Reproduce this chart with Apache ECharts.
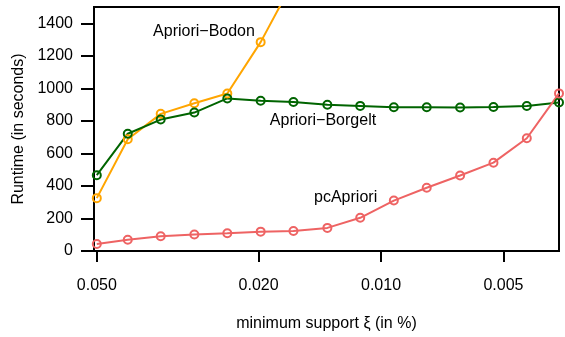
<!DOCTYPE html>
<html>
<head>
<meta charset="utf-8">
<script src="https://cdn.jsdelivr.net/npm/echarts@6/dist/echarts.min.js"></script>
<style>
html,body{margin:0;padding:0;background:#fff;}
#c{width:565px;height:337px;}
</style>
</head>
<body>
<div id="c"></div>
<script>
// minimum support (in %)
const support = [0.05, 0.04196, 0.03482, 0.02878, 0.02388, 0.01977, 0.01642, 0.01355, 0.01125, 0.00930, 0.00772, 0.00639, 0.00529, 0.00438, 0.00365];
// runtimes (seconds)
const bodon = [325, 687, 843, 908, 968, 1284, 1660];
const borgelt = [466, 721, 808, 851, 938, 924, 916, 899, 892, 884, 884, 882, 885, 891, 913];
const pcApriori = [43, 69, 91, 101, 109, 119, 123, 142, 204, 310, 389, 464, 543, 693, 969];
// tick labels
const xTicks = [0.05, 0.02, 0.01, 0.005];
const yTicks = [0, 200, 400, 600, 800, 1000, 1200, 1400];
// series names and annotation anchors (data coordinates)
const names = ['Apriori\u2212Bodon', 'Apriori\u2212Borgelt', 'pcApriori'];
const labelAnchors = [[0.02725, 1351], [0.01389, 804], [0.01222, 330]];

const colors = ['#FFA500', '#006400', '#EE6363'];
const FONT = "'Liberation Sans', Arial, Helvetica, sans-serif";

function pairs(ys) { return ys.map((y, i) => [support[i], y]); }

const chart = echarts.init(document.getElementById('c'), null, {renderer: 'canvas'});
const seriesData = [bodon, borgelt, pcApriori];

chart.setOption({
  animation: false,
  backgroundColor: '#fff',
  textStyle: {fontFamily: FONT},
  grid: {left: 94, top: 7, width: 465, height: 247, show: true, borderColor: '#000', borderWidth: 2, backgroundColor: 'transparent'},
  xAxis: {
    type: 'log', inverse: true, min: 0.00365, max: 0.0508,
    name: 'minimum support \u03BE (in %)', nameLocation: 'middle', nameGap: 65,
    nameTextStyle: {fontSize: 16, color: '#000', fontFamily: FONT},
    axisLine: {show: false},
    splitLine: {show: false}, minorTick: {show: false}, minorSplitLine: {show: false},
    axisTick: {show: true, customValues: xTicks, length: 11, lineStyle: {color: '#000', width: 2}},
    axisLabel: {customValues: xTicks, formatter: v => Number(v).toFixed(3), margin: 27, fontSize: 16, color: '#000', fontFamily: FONT}
  },
  yAxis: {
    type: 'value', min: 0, max: 1500,
    name: 'Runtime (in seconds)', nameLocation: 'middle', nameGap: 57,
    nameTextStyle: {fontSize: 16, color: '#000', fontFamily: FONT},
    axisLine: {show: true, lineStyle: {color: '#000', width: 2}},
    splitLine: {show: false},
    axisTick: {show: true, customValues: yTicks, length: 13, lineStyle: {color: '#000', width: 2}},
    axisLabel: {customValues: yTicks, formatter: v => String(v), margin: 21, fontSize: 16, color: '#000', fontFamily: FONT}
  },
  series: seriesData.map((d, i) => ({
    type: 'line', name: names[i], data: pairs(d), clip: true,
    symbol: 'circle', symbolSize: 8, showAllSymbol: true,
    lineStyle: {color: colors[i], width: 2},
    itemStyle: {color: 'rgba(0,0,0,0)', borderColor: colors[i], borderWidth: 2},
    emphasis: {disabled: true}
  }))
});

const texts = labelAnchors.map((a, i) => {
  const p = chart.convertToPixel({gridIndex: 0}, a);
  return {type: 'text', x: p[0], y: p[1], style: {text: names[i], fill: '#000', font: '16px ' + FONT, textAlign: 'center', textVerticalAlign: 'middle'}};
});
chart.setOption({graphic: texts});
</script>
</body>
</html>
